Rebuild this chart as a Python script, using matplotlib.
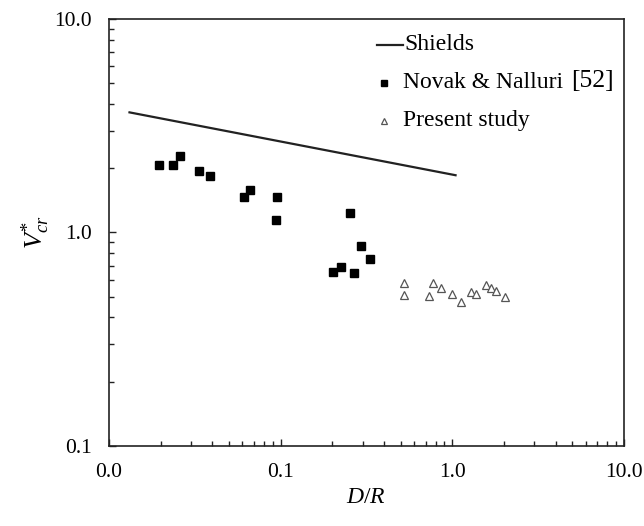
import matplotlib
matplotlib.use("Agg")
import matplotlib.pyplot as plt
from matplotlib.ticker import FixedLocator, FormatStrFormatter, LogLocator, NullFormatter

plt.rcParams['font.family'] = ['Liberation Serif', 'DejaVu Serif']
plt.rcParams['mathtext.fontset'] = 'custom'
plt.rcParams['mathtext.rm'] = 'Liberation Serif'
plt.rcParams['mathtext.it'] = 'Liberation Serif:italic'

# Shields criterion
shields_x = [0.013, 1.06]
shields_y = [3.66, 1.85]

# Novak & Nalluri [52]
novak_x = [0.0196, 0.0236, 0.0261, 0.0335, 0.0387, 0.0615, 0.0661, 0.0953,
           0.094, 0.255, 0.294, 0.330, 0.201, 0.226, 0.267]
novak_y = [2.06, 2.06, 2.29, 1.95, 1.84, 1.46, 1.58, 1.46,
           1.14, 1.23, 0.867, 0.754, 0.655, 0.689, 0.644]

# Present study
present_x = [0.523, 0.523, 0.774, 0.734, 0.859, 0.995, 1.12, 1.29, 1.38,
             1.58, 1.69, 1.79, 2.02]
present_y = [0.578, 0.509, 0.578, 0.504, 0.548, 0.515, 0.471, 0.528, 0.515,
             0.568, 0.548, 0.534, 0.500]

major_ticks = [0.01, 0.1, 1.0, 10.0]
y_ticks = [0.1, 1.0, 10.0]

fig = plt.figure(figsize=(6.44, 5.26), dpi=100)
ax = fig.add_axes([0.169, 0.152, 0.800, 0.812])

ax.plot(shields_x, shields_y, color='#222222', lw=1.6, solid_capstyle='butt')
ax.plot(novak_x, novak_y, 's', color='black', ms=6.3, mec='black', ls='none')
ax.plot(present_x, present_y, '^', mfc='white', mec='#555555', mew=0.9,
        ms=6.2, ls='none')

ax.set_xscale('log')
ax.set_yscale('log')
ax.set_xlim(0.01, 10)
ax.set_ylim(0.1, 10)

ax.xaxis.set_major_locator(FixedLocator(major_ticks))
ax.yaxis.set_major_locator(FixedLocator(y_ticks))
ax.xaxis.set_major_formatter(FormatStrFormatter('%.1f'))
ax.yaxis.set_major_formatter(FormatStrFormatter('%.1f'))
ax.xaxis.set_minor_locator(LogLocator(base=10, subs=range(2, 10)))
ax.yaxis.set_minor_locator(LogLocator(base=10, subs=range(2, 10)))
ax.xaxis.set_minor_formatter(NullFormatter())
ax.yaxis.set_minor_formatter(NullFormatter())

ax.tick_params(which='both', direction='in', top=False, right=False,
               labelsize=15.5, pad=12, width=1.0, color='#222222')
ax.tick_params(which='major', length=5)
ax.tick_params(which='minor', length=3.5)
for s in ax.spines.values():
    s.set_linewidth(1.2)
    s.set_color('#222222')

ax.set_xlabel(r'$D/R$', fontsize=17, labelpad=4)
ax.set_ylabel(r'$V^{*}_{cr}$', fontsize=19, labelpad=2)

# Legend drawn in axes coordinates
tr = ax.transAxes
def ax_pt(px, py):
    return ((px - 108.8) / 515.2, (446.0 - py) / 427.0)

x0, y0 = ax_pt(377, 45)
x1, _ = ax_pt(403, 45)
ax.plot([x0, x1], [y0, y0], transform=tr, color='#222222', lw=1.6)
tx, _ = ax_pt(404, 45)
ax.text(tx, y0, 'Shields', transform=tr, fontsize=17, va='center', ha='left')

mx, my = ax_pt(384, 83)
ax.plot([mx], [my], 's', transform=tr, color='black', ms=4.5)
tx, _ = ax_pt(403, 83)
ax.text(tx, my, 'Novak & Nalluri', transform=tr, fontsize=17,
        va='center', ha='left')
bx, by = ax_pt(571, 81)
ax.text(bx, by, '[52]', transform=tr, fontsize=18.5, va='center', ha='left')

mx, my = ax_pt(384, 121)
ax.plot([mx], [my], '^', transform=tr, mfc='white', mec='#555555', mew=0.9,
        ms=5)
tx, _ = ax_pt(403, 121)
ax.text(tx, my, 'Present study', transform=tr, fontsize=17,
        va='center', ha='left')

fig.savefig('out.png', dpi=100)
